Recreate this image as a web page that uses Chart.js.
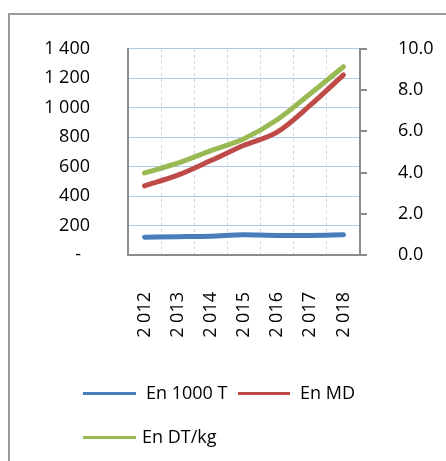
<!DOCTYPE html>
<html>
<head>
<meta charset="utf-8">
<script src="https://cdn.jsdelivr.net/npm/chart.js@4"></script>
<style>
  html, body { margin: 0; padding: 0; background: #fff; width: 446px; height: 461px; overflow: hidden; }
  #frame { position: absolute; left: 8px; top: 13px; width: 500px; height: 500px;
           border-top: 2px solid #9a9a9a; border-left: 2px solid #9a9a9a; box-sizing: border-box; }
  #wrap { position: absolute; left: 0; top: 0; width: 446px; height: 461px; }
  .leg { position: absolute; font-family: 'Open Sans', sans-serif; font-size: 18px; color: #000;
         white-space: nowrap; line-height: 22px; }
  .sw { position: absolute; height: 3px; }
</style>
</head>
<body>
<div id="frame"></div>
<div id="wrap"><canvas id="c" width="446" height="461"></canvas></div>
<div id="legend"></div>
<script>
// ---- data ----
const categories = ['2 012', '2 013', '2 014', '2 015', '2 016', '2 017', '2 018'];
const tonnage   = [121, 124, 128, 137, 133, 133, 137];      // En 1000 T (left axis)
const valueMD   = [469, 542, 641, 745, 834, 1017, 1223];    // En MD (left axis)
const priceDTkg = [3.98, 4.45, 5.06, 5.64, 6.56, 7.82, 9.13]; // En DT/kg (right axis)
const seriesLabels = ['En 1000 T', 'En MD', 'En DT/kg'];
const seriesColors = ['#4A7EBB', '#BE4B48', '#98B954'];
const leftTicks = { min: 0, max: 1400, step: 200 };
const rightTicks = { min: 0, max: 10, step: 2 };

Chart.defaults.font.family = "'Open Sans', sans-serif";
Chart.defaults.font.size = 18;
Chart.defaults.color = '#000';

function fmtThousands(v) {
  if (v === 0) return '-\u2002';
  return String(v).replace(/\B(?=(\d{3})+(?!\d))/g, ' ');
}

const mk = (i, data, axis) => ({
  label: seriesLabels[i], data: data, yAxisID: axis,
  borderColor: seriesColors[i], backgroundColor: seriesColors[i],
  borderWidth: 5, pointRadius: 0, borderCapStyle: 'round', borderJoinStyle: 'round',
  cubicInterpolationMode: 'monotone', fill: false
});

new Chart(document.getElementById('c'), {
  type: 'line',
  data: {
    labels: categories,
    datasets: [ mk(0, tonnage, 'y'), mk(1, valueMD, 'y'), mk(2, priceDTkg, 'y1') ]
  },
  options: {
    responsive: false, animation: false,
    layout: { padding: { top: 44, left: 0, right: 0, bottom: 0 } },
    plugins: { legend: { display: false }, tooltip: { enabled: false } },
    scales: {
      x: {
        offset: true,
        grid: { offset: true, color: '#c9d8ec', lineWidth: 1, drawTicks: false },
        border: { display: false, dash: [3, 3] },
        ticks: { minRotation: 90, maxRotation: 90, padding: 37, autoSkip: false },
        afterFit: s => { s.height = 461 - 255; }
      },
      y: {
        position: 'left', min: leftTicks.min, max: leftTicks.max,
        grid: { color: c => c.tick && c.tick.value === 0 ? '#8c8c8c' : '#b3c8e3',
                lineWidth: c => c.tick && c.tick.value === 0 ? 2 : 1, drawTicks: false },
        border: { color: '#8c8c8c', width: 2 },
        ticks: { stepSize: leftTicks.step, padding: 38, callback: v => fmtThousands(v) },
        afterFit: s => { s.width = 128; }
      },
      y1: {
        position: 'right', min: rightTicks.min, max: rightTicks.max,
        grid: { drawOnChartArea: false, drawTicks: true, tickLength: 7, color: '#8c8c8c', lineWidth: 2 },
        border: { color: '#8c8c8c', width: 2 },
        ticks: { stepSize: rightTicks.step, padding: 31, callback: v => Number(v).toFixed(1) },
        afterFit: s => { s.width = 446 - 360; }
      }
    }
  }
});

// ---- HTML legend ----
const legendLayout = [
  { sx: 83, sw: 53, tx: 146, y: 393 },
  { sx: 238, sw: 52, tx: 300, y: 393 },
  { sx: 83, sw: 53, tx: 142, y: 437 }
];
const lg = document.getElementById('legend');
seriesLabels.forEach((lab, i) => {
  const L = legendLayout[i];
  const sw = document.createElement('div');
  sw.className = 'sw';
  sw.style.left = L.sx + 'px'; sw.style.width = L.sw + 'px';
  sw.style.top = (L.y - 1.5) + 'px'; sw.style.background = seriesColors[i];
  lg.appendChild(sw);
  const t = document.createElement('div');
  t.className = 'leg'; t.textContent = lab;
  t.style.left = L.tx + 'px'; t.style.top = (L.y - 12) + 'px';
  lg.appendChild(t);
});
</script>
</body>
</html>
